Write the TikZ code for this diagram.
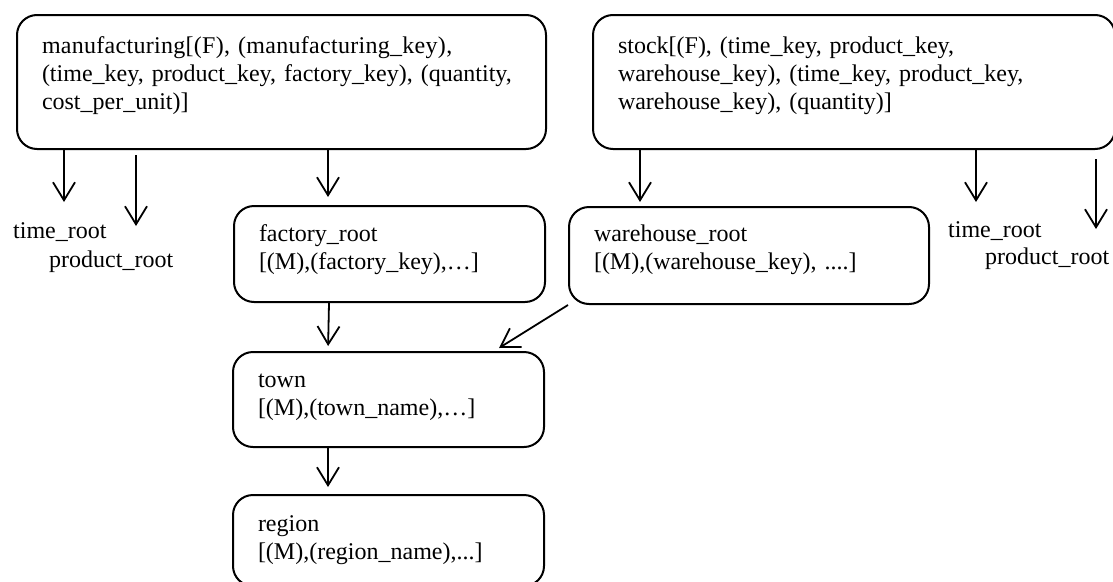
\documentclass[tikz,border=0pt]{standalone}
\usepackage{fontspec}
\setmainfont{Liberation Serif}
\usepackage{tikz}
\usetikzlibrary{arrows.meta}
\tikzstyle{box}=[draw=black, rounded corners=20pt, line width=2pt, anchor=north west, align=left, inner xsep=25pt, inner ysep=10pt, text height=25pt]
\tikzstyle{lbl}=[anchor=base west, inner sep=0pt]
\tikzstyle{arr}=[-{Straight Barb[length=18pt, width=22pt]}, line width=1.8pt]

\begin{document}
\begin{tikzpicture}[x=1pt, y=-1pt, font=\fontsize{24}{28}\selectfont]
    \useasboundingbox (0,0) rectangle (1113,581);

    % fact tables
    \node[box, text width=479pt, text height=28pt, text depth=86pt] (manu) at (16,14)
        {{\addfontfeatures{LetterSpace=1.2}manufacturing[(F), (manufacturing\_key),}\\(time\_key, product\_key, factory\_key), (quantity,\\cost\_per\_unit)]};
    \node[box, text width=472pt, text height=28pt, text depth=86pt] (stock) at (592,14)
        {stock[(F), (time\_key, product\_key,\\warehouse\_key), (time\_key, product\_key,\\warehouse\_key), (quantity)]};

    % dimension roots
    \node[box, text width=261pt, text depth=51pt] (fac) at (233,205) {factory\_root\\{[}(M),(factory\_key),…]};
    \node[box, text width=310pt, text height=24pt, text depth=53pt] (wh) at (568,206) {warehouse\_root\\{[}(M),(warehouse\_key), ....]};
    \node[box, text width=261pt, text depth=50pt] (town) at (232,351) {town\\{[}(M),(town\_name),…]};
    \node[box, text width=261pt, text height=26pt, text depth=45pt] (reg) at (232,494) {region\\{[}(M),(region\_name),...]};

    \node[lbl] (tr1) at (13,238) {time\_root};
    \node[lbl] (pr1) at (49,267) {product\_root};
    \node[lbl] (tr2) at (948,237) {time\_root};
    \node[lbl] (pr2) at (985,264) {product\_root};

    \coordinate (tk1) at (64,202);
    \coordinate (pk1) at (136,226);
    \coordinate (tk2) at (976,202);
    \coordinate (pk2) at (1096,229);

    \draw[arr] (manu.south -| tk1) -- (tk1);
    \draw[arr] ([yshift=-5pt]manu.south -| pk1) -- (pk1);
    \draw[arr, shorten >=8pt] ([xshift=312pt]manu.south west) -- ([xshift=95pt]fac.north west);
    \draw[arr, shorten >=5pt] ([xshift=96pt]fac.south west) -- ([xshift=96pt]town.north west);
    \draw[arr, shorten >=7pt] ([xshift=96pt]town.south west) -- ([xshift=96pt]reg.north west);

    \draw[arr, shorten >=4pt] ([xshift=48pt]stock.south west) -- ([xshift=72pt]wh.north west);
    \draw[arr] (stock.south -| tk2) -- (tk2);
    \draw[arr] ([yshift=-9pt]stock.south -| pk2) -- (pk2);
    \draw[arr] (wh.south west) -- ([xshift=267pt, yshift=3pt]town.north west);
\end{tikzpicture}
\end{document}
